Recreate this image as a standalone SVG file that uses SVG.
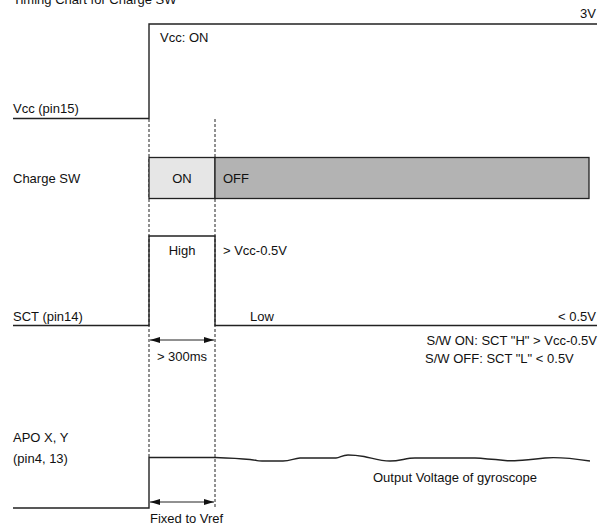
<svg xmlns="http://www.w3.org/2000/svg" width="606" height="527" viewBox="0 0 606 527">
<defs>
<style>
text{font-family:"Liberation Sans",Arial,sans-serif;font-size:13px;fill:#111}
.sig{fill:none;stroke:#222;stroke-width:1.4}
.dash{fill:none;stroke:#222;stroke-width:1;stroke-dasharray:3 2}
.arr{fill:none;stroke:#222;stroke-width:1;marker-start:url(#ah);marker-end:url(#ah)}
.mid{text-anchor:middle}
.end{text-anchor:end}
</style>
<marker id="ah" viewBox="0 0 10 6" refX="10" refY="3" markerWidth="10" markerHeight="6" markerUnits="userSpaceOnUse" orient="auto-start-reverse">
<path d="M0,0L10,3L0,6z" fill="#111"/>
</marker>
</defs>
<rect width="606" height="527" fill="#fff"/>
<text x="13" y="4">Timing Chart for Charge SW</text>

<g id="connectors">
<line class="dash" x1="149" y1="119" x2="149" y2="457"/>
<line class="dash" x1="215" y1="119" x2="215" y2="509"/>
<line class="arr" x1="150" y1="340" x2="214" y2="340"/>
<line class="arr" x1="150" y1="502" x2="214" y2="502"/>
</g>

<g id="vcc">
<path class="sig" d="M13,118.5H149V24H597"/>
<text x="596" y="18" class="end">3V</text>
<text x="160" y="42">Vcc: ON</text>
<text x="13" y="113">Vcc (pin15)</text>
</g>

<g id="charge-sw">
<text x="13" y="183">Charge SW</text>
<rect x="149" y="157.5" width="66" height="41" fill="#e6e6e6" stroke="#222" stroke-width="1.3"/>
<rect x="215" y="157.5" width="374" height="41" fill="#b3b3b3" stroke="#222" stroke-width="1.3"/>
<text x="182" y="183" class="mid">ON</text>
<text x="223" y="183">OFF</text>
</g>

<g id="sct">
<path class="sig" d="M13,325.5H149V236H215V325.5H597"/>
<text x="182" y="255" class="mid">High</text>
<text x="223" y="255">&gt; Vcc-0.5V</text>
<text x="13" y="321">SCT (pin14)</text>
<text x="250" y="321">Low</text>
<text x="596" y="321" class="end">&lt; 0.5V</text>
<text x="182" y="361" class="mid">&gt; 300ms</text>
<text x="597" y="345" class="end">S/W ON: SCT "H" &gt; Vcc-0.5V</text>
<text x="425" y="363">S/W OFF: SCT "L" &lt; 0.5V</text>
</g>

<g id="apo">
<text x="13" y="442">APO X, Y</text>
<text x="13" y="463">(pin4, 13)</text>
<path class="sig" d="M13,508H149V457.5H215"/>
<path class="sig" stroke-width="1.2" d="M215,457.5C230,458 240,458.5 250,459.5S255,461 262,461H283C290,461 294,458.5 300,458H336C340,458 342,455 348,455C354,455 358,455.5 364,456.5C372,458 380,461 390,461C400,461 406,458 415,458H475C485,458.5 495,459.5 505,460.5C510,461 513,461 518,460.5C525,460 535,459 545,458C555,457 570,458 590,461"/>
<text x="373" y="482">Output Voltage of gyroscope</text>
<text x="150" y="523">Fixed to Vref</text>
</g>
</svg>
